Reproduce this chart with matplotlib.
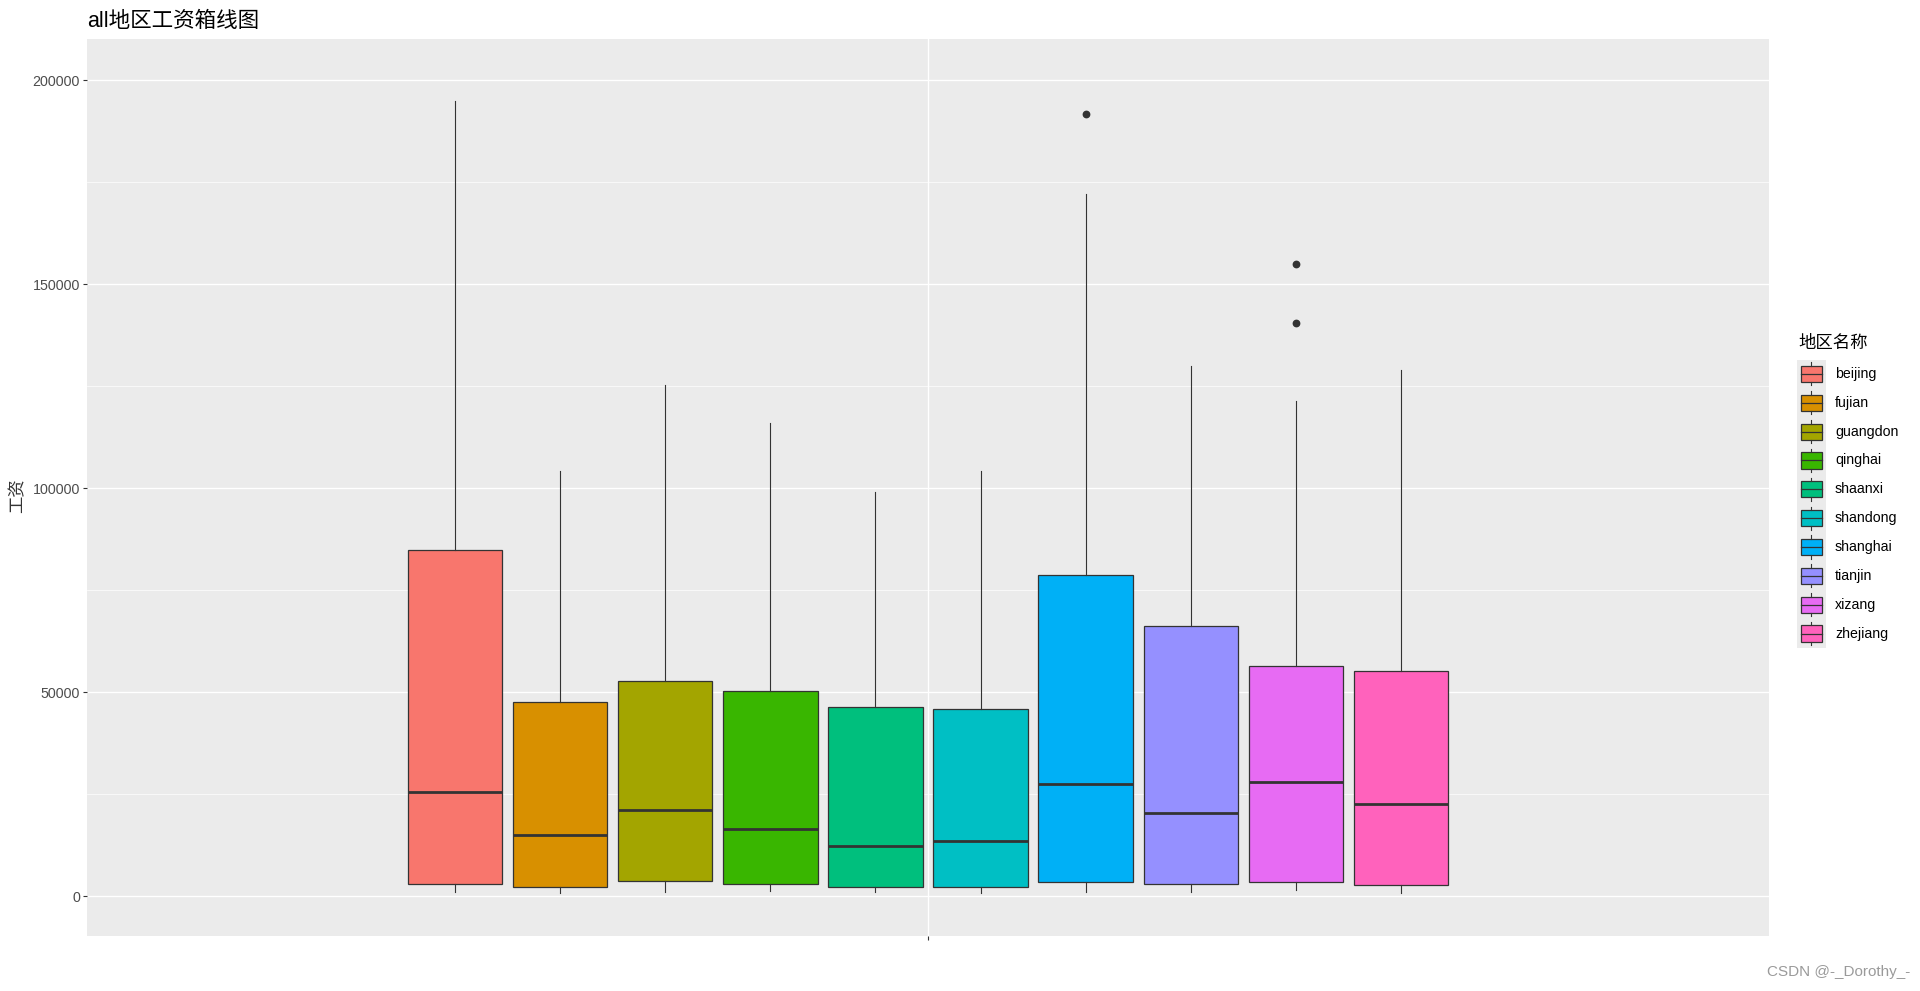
import matplotlib.pyplot as plt
import numpy as np

regions = ['beijing', 'fujian', 'guangdon', 'qinghai', 'shaanxi',
           'shandong', 'shanghai', 'tianjin', 'xizang', 'zhejiang']
colors = ['#F8766D', '#D89000', '#A3A500', '#39B600', '#00BF7D',
          '#00BFC4', '#00B0F6', '#9590FF', '#E76BF3', '#FF62BC']

whislo = [1130, 890, 1130, 1370, 1130, 890, 1130, 1130, 1620, 890]
q1 = [2940, 2350, 3680, 2940, 2200, 2350, 3430, 2940, 3430, 2700]
med = [25500, 14960, 21090, 16430, 12260, 13490, 27460, 20350, 27950, 22560]
q3 = [84770, 47530, 52680, 50230, 46300, 45820, 78650, 66150, 56350, 55130]
whishi = [194850, 104200, 125200, 115900, 99100, 104200, 172040, 130000, 121300, 128940]
fliers = [[], [], [], [], [], [], [191800], [], [154840, 140380], []]

W, H = 1920, 991
fig = plt.figure(figsize=(W / 100, H / 100), dpi=100)
fig.patch.set_facecolor('white')


def fx(x):
    return x / W


def fy(y):
    return 1 - y / H


ax = fig.add_axes([fx(87), fy(935.5), (1769 - 87) / W, (935.5 - 39.2) / H])
ax.set_facecolor('#EBEBEB')

n = len(regions)
slot = 0.75 / n
positions = [1 - 0.375 + slot * (i + 0.5) for i in range(n)]
stats = []
for i in range(n):
    stats.append(dict(whislo=whislo[i], q1=q1[i], med=med[i], q3=q3[i],
                      whishi=whishi[i], fliers=fliers[i], label=regions[i]))

bp = ax.bxp(stats, positions=positions, widths=slot * 0.9, patch_artist=True,
            showcaps=False, manage_ticks=False,
            boxprops=dict(edgecolor='#333333', linewidth=0.9),
            medianprops=dict(color='#333333', linewidth=2.0, solid_capstyle='butt'),
            whiskerprops=dict(color='#333333', linewidth=0.8),
            flierprops=dict(marker='o', markerfacecolor='#333333',
                            markeredgecolor='#333333', markersize=4.6))
for patch, c in zip(bp['boxes'], colors):
    patch.set_facecolor(c)
for m in bp['medians']:
    m.set_zorder(3)

ax.set_xlim(0.4, 1.6)
ax.set_ylim(-9600, 210045)
ax.set_yticks(np.arange(0, 200001, 50000))
ax.set_yticklabels([str(v) for v in range(0, 200001, 50000)])
ax.set_yticks(np.arange(25000, 200001, 50000), minor=True)
ax.set_xticks([1])
ax.set_xticklabels([''])
ax.grid(True, which='major', color='white', linewidth=0.95)
ax.grid(True, which='minor', axis='y', color='white', linewidth=0.5)
ax.set_axisbelow(True)
for s in ax.spines.values():
    s.set_visible(False)
ax.tick_params(axis='both', which='major', length=3, width=0.8, color='#333333',
               labelcolor='#4D4D4D', pad=2)
ax.tick_params(axis='y', which='minor', length=0)
for lab in ax.get_yticklabels():
    lab.set_fontfamily('Liberation Sans')
    lab.set_fontsize(10.3)

cjk = ['Liberation Sans', 'Noto Sans CJK SC']
fig.text(fx(87), fy(21), 'all地区工资箱线图', fontsize=15.5, family=cjk,
         ha='left', va='center', color='black')
fig.text(fx(17), fy(496), '工资', fontsize=12.5, family=cjk, rotation=90,
         ha='center', va='center', color='#333333')

# legend
top = 359.5
fig.text(fx(1798), fy(343.5), '地区名称', fontsize=12.5, family=cjk,
         ha='left', va='center', color='black')
key_h = 28.85
lax = fig.add_axes([fx(1796.7), fy(top + key_h * n), 29.3 / W, key_h * n / H])
lax.set_xlim(0, 1)
lax.set_ylim(n, 0)
lax.axis('off')
lax.add_patch(plt.Rectangle((0, 0), 1, n, facecolor='#EBEBEB', edgecolor='none'))
for i, (r, c) in enumerate(zip(regions, colors)):
    lax.plot([0.5, 0.5], [i + 0.1, i + 0.22], color='#333333', lw=0.8)
    lax.plot([0.5, 0.5], [i + 0.78, i + 0.9], color='#333333', lw=0.8)
    lax.add_patch(plt.Rectangle((0.14, i + 0.22), 0.72, 0.56, facecolor=c,
                                edgecolor='#333333', linewidth=0.9))
    lax.plot([0.14, 0.86], [i + 0.5, i + 0.5], color='#333333', lw=0.9)
    fig.text(fx(1835), fy(top + key_h * (i + 0.5)), r, fontsize=10.2,
             family='Liberation Sans', ha='left', va='center', color='black')

fig.text(fx(1910), fy(972), 'CSDN @-_Dorothy_-', fontsize=11,
         family='Liberation Sans', ha='right', va='center', color='#9A9A9A')

fig.savefig('out.png', dpi=100)
